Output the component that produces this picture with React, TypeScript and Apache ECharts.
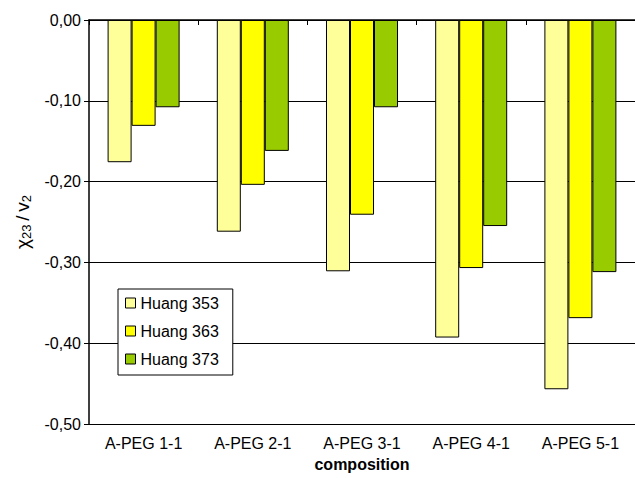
import React, { useEffect, useRef } from "react";
import * as echarts from "echarts";

const categories = ["A-PEG 1-1", "A-PEG 2-1", "A-PEG 3-1", "A-PEG 4-1", "A-PEG 5-1"];
const huang353 = [-0.176, -0.262, -0.311, -0.393, -0.457];
const huang363 = [-0.131, -0.204, -0.241, -0.307, -0.369];
const huang373 = [-0.108, -0.162, -0.108, -0.255, -0.312];
const seriesNames = ["Huang 353", "Huang 363", "Huang 373"];
const seriesColors = ["#FFFF99", "#FFFF00", "#99CC00"];

const FONT = "Liberation Sans, Arial, sans-serif";

export default function App() {
  const ref = useRef<HTMLDivElement>(null);

  useEffect(() => {
    if (!ref.current) return;
    const chart = echarts.init(ref.current, undefined, { renderer: "svg" });
    const values = [huang353, huang363, huang373];

    chart.setOption({
      animation: false,
      backgroundColor: "#fff",
      textStyle: { fontFamily: FONT },
      grid: { left: 89, right: -7, top: 20, bottom: 54, containLabel: false },
      legend: {
        orient: "vertical",
        left: 118,
        top: 289,
        data: seriesNames,
        icon: "rect",
        itemWidth: 10,
        itemHeight: 10,
        itemGap: 12,
        padding: [6, 14, 8, 7],
        backgroundColor: "#fff",
        borderColor: "#000",
        borderWidth: 1,
        borderRadius: 0,
        textStyle: { fontFamily: FONT, fontSize: 16, color: "#000" },
        itemStyle: { borderColor: "#000", borderWidth: 1 },
      },
      xAxis: [
        {
          type: "category",
          data: categories,
          position: "bottom",
          name: "composition",
          nameLocation: "middle",
          nameGap: 32,
          nameTextStyle: { fontFamily: FONT, fontSize: 16, fontWeight: "bold", color: "#000" },
          axisLine: { lineStyle: { color: "#000", width: 1 } },
          axisTick: { show: true, length: 5, lineStyle: { color: "#000" } },
          axisLabel: { color: "#000", fontSize: 16, fontFamily: FONT, margin: 11 },
          splitLine: { show: false },
        },
        {
          type: "category",
          data: categories,
          position: "top",
          axisLine: { lineStyle: { color: "#000", width: 1.5 } },
          axisTick: { show: true, inside: true, length: 4, lineStyle: { color: "#000" } },
          axisLabel: { show: false },
          splitLine: { show: false },
        },
      ],
      yAxis: {
        type: "value",
        min: -0.5,
        max: 0,
        interval: 0.1,
        name: "{a|χ}{s|23}{a|\u2009/\u2009v}{s|2}",
        nameLocation: "middle",
        nameRotate: 90,
        nameGap: 56,
        nameTextStyle: {
          color: "#000",
          rich: {
            a: { fontFamily: FONT, fontSize: 19, color: "#000", lineHeight: 22, verticalAlign: "middle" },
            s: { fontFamily: FONT, fontSize: 13, color: "#000", lineHeight: 22, verticalAlign: "bottom" },
          },
        },
        axisLine: { show: true, lineStyle: { color: "#000", width: 1.5 } },
        axisTick: { show: true, length: 5, lineStyle: { color: "#000" } },
        axisLabel: {
          color: "#000",
          fontSize: 16,
          fontFamily: FONT,
          margin: 8,
          formatter: (v: number) => v.toFixed(2).replace(".", ","),
        },
        splitLine: { show: true, lineStyle: { color: "#000", width: 1 } },
      },
      series: seriesNames.map((name, i) => ({
        name,
        type: "bar",
        data: values[i],
        barWidth: 24,
        barGap: "0%",
        itemStyle: { color: seriesColors[i], borderColor: "#000", borderWidth: 1 },
      })),
    });

    return () => chart.dispose();
  }, []);

  return (
    <div
      ref={ref}
      style={{ position: "absolute", left: 0, top: 0, width: 635, height: 478 }}
    />
  );
}
